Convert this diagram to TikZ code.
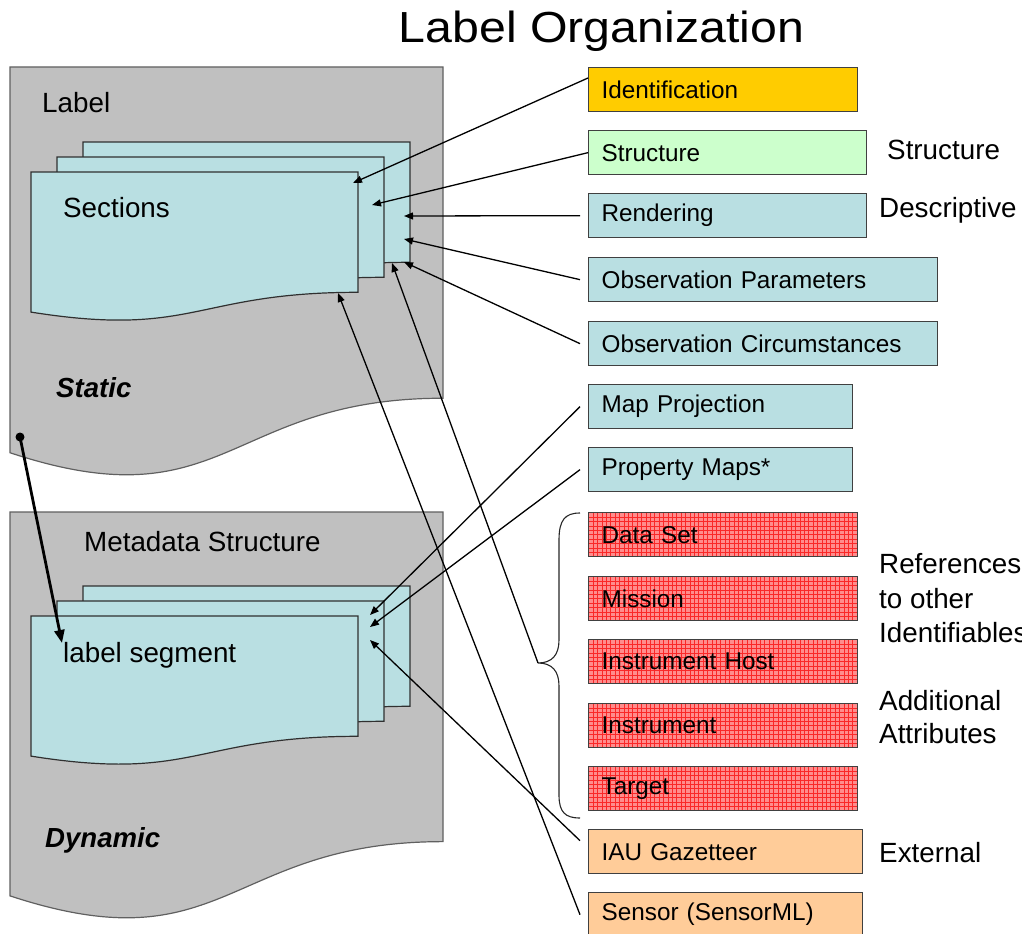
\documentclass[tikz,border=0pt]{standalone}
\usepackage{fontspec}
\setmainfont{Liberation Sans}
\usetikzlibrary{arrows.meta}

\definecolor{panelgrey}{RGB}{192,192,192}
\definecolor{panelline}{RGB}{96,96,96}
\definecolor{cardblue}{RGB}{185,223,226}
\definecolor{cardline}{RGB}{48,48,48}
\definecolor{identgold}{RGB}{255,204,0}
\definecolor{structgreen}{RGB}{204,255,204}
\definecolor{extpeach}{RGB}{255,204,153}
\definecolor{refpink}{RGB}{255,140,140}
\definecolor{refline}{RGB}{250,40,40}
\definecolor{boxline}{RGB}{64,64,64}

% page-like sheet with a wavy lower edge: style, x, y, width, height
\newcommand\wavysheet[5]{%
  \pgfmathsetmacro\shtR{#2+#4}%
  \pgfmathsetmacro\shtM{#2+#4/2}%
  \pgfmathsetmacro\shtYr{#3+0.802*#5}%
  \pgfmathsetmacro\shtYc{#3+1.1075*#5}%
  \pgfmathsetmacro\shtYl{#3+0.934*#5}%
  \draw[#1] (#2,#3) -- (\shtR,#3) -- (\shtR,\shtYr)
    .. controls (\shtM,\shtYr) and (\shtM,\shtYc) .. (#2,\shtYl) -- cycle;}

\tikzset{
  panel/.style={fill=panelgrey, draw=panelline, line width=1.2pt},
  card/.style={fill=cardblue, draw=cardline, line width=1.2pt},
  entry/.style={draw=boxline, line width=1.3pt, anchor=north west,
    minimum height=44pt, inner xsep=13pt, inner ysep=0pt, align=left,
    font=\fontsize{24.3}{28}\selectfont, text width=#1},
  gridded/.style={fill=refpink, path picture={
    \foreach \k in {0,...,64}{\draw[refline, line width=0.6pt]
      ([xshift=\k*4.4pt]path picture bounding box.south west) --
      ([xshift=\k*4.4pt]path picture bounding box.north west);}
    \foreach \k in {0,...,10}{\draw[refline, line width=0.6pt]
      ([yshift=\k*4.4pt]path picture bounding box.south west) --
      ([yshift=\k*4.4pt]path picture bounding box.south east);}}},
  caption/.style={anchor=base west, inner sep=0pt, font=\fontsize{27.8}{33}\selectfont},
  conn/.style={-{Triangle[length=9pt,width=7pt]}, line width=1.3pt, black},
}

\begin{document}
\begin{tikzpicture}[x=1pt, y=-1pt]
\useasboundingbox (0,0) rectangle (1028,934);
\clip (0,0) rectangle (1021,934);

% title
\node[anchor=base, inner sep=0pt] (title) at (601.5,43)
  {\scalebox{1.11}[1]{\fontsize{43.5}{50}\selectfont Label Organization}};

% static label panel with its section sheets
\wavysheet{panel}{10}{67}{433}{413}
\wavysheet{card}{83}{142}{327}{150}
\wavysheet{card}{57}{157}{327}{150}
\wavysheet{card}{31}{172}{327}{150}
\node[caption] (lbl) at (42,112) {Label};
\node[caption] (sec) at (63,217) {Sections};
\node[caption, font=\fontsize{27.6}{33}\selectfont\bfseries\itshape] (stat) at (56,397) {Static};

% dynamic metadata panel with its segment sheets
\wavysheet{panel}{10}{512}{433}{411}
\wavysheet{card}{83}{586}{327}{150}
\wavysheet{card}{57}{601}{327}{150}
\wavysheet{card}{31}{616}{327}{150}
\node[caption] (meta) at (84,551) {Metadata Structure};
\node[caption] (seg) at (63,662) {label segment};
\node[caption, font=\fontsize{27.6}{33}\selectfont\bfseries\itshape] (dyn) at (45,847) {Dynamic};

% class boxes
\node[entry=243pt, fill=identgold] (ident) at (588,67) {Identification};
\node[entry=252pt, fill=structgreen] (struct) at (588,130) {Structure};
\node[entry=252pt, fill=cardblue] (rend) at (588,193) {Rendering};
\node[entry=323pt, fill=cardblue] (obsp) at (588,257) {Observation Parameters};
\node[entry=323pt, fill=cardblue] (obsc) at (588,321) {Observation Circumstances};
\node[entry=238pt, fill=cardblue] (map) at (588,384) {Map Projection};
\node[entry=238pt, fill=cardblue] (prop) at (588,447) {Property Maps*};
\node[entry=243pt, gridded] (data) at (588,512) {Data Set};
\node[entry=243pt, gridded] (mission) at (588,576) {Mission};
\node[entry=243pt, gridded] (ihost) at (588,639) {Instrument Host};
\node[entry=243pt, gridded] (instr) at (588,703) {Instrument};
\node[entry=243pt, gridded] (target) at (588,766) {Target};
\node[entry=248pt, fill=extpeach] (iau) at (588,829) {IAU Gazetteer};
\node[entry=248pt, fill=extpeach] (sensor) at (588,892) {Sensor (SensorML)};

% group captions
\node[caption] (capstruct) at (887,159) {Structure};
\node[caption] (capdesc) at (879,217) {Descriptive};
\node[caption] (capref1) at (879,573) {References};
\node[caption] (capref2) at (879,608) {to other};
\node[caption] (capref3) at (879,642) {Identifiables};
\node[caption] (capadd1) at (879,710) {Additional};
\node[caption] (capadd2) at (879,743) {Attributes};
\node[caption] (capext) at (879,862) {External};

% brace grouping the referenced identifiables
\coordinate (braceTip) at (538,663);
\draw[line width=1.1pt, black!85]
  (580,513) .. controls (565,513) and (559,520) .. (559,540) -- (559,640)
  .. controls (559,655) and (552,663) .. (braceTip)
  .. controls (552,663) and (559,671) .. (559,686) -- (559,795)
  .. controls (559,812) and (565,818) .. (580,818);

% arrow targets on the sheets
\coordinate (sIdent) at (353,183);
\coordinate (sStruct) at (372,205);
\coordinate (sRend) at (404,216);
\coordinate (sObsP) at (404,239);
\coordinate (sObsC) at (404,262);
\coordinate (sBack) at (392,263);
\coordinate (sFront) at (338,293);
\coordinate (gMap) at (370,615);
\coordinate (gProp) at (370,627);
\coordinate (gIAU) at (370,640);
\coordinate (dotStart) at (20,437);
\coordinate (gSeg) at (62,643);

% connectors
\draw[conn] ([yshift=-11pt]ident.north west) -- (sIdent);
\draw[conn] (struct.west) -- (sStruct);
\draw[conn] ([xshift=-8pt]rend.west) -- (sRend);
\draw[conn] ([xshift=-8pt]obsp.west) -- (sObsP);
\draw[conn] ([xshift=-8pt]obsc.west) -- (sObsC);
\draw[conn] ([xshift=-8pt]map.west) -- (gMap);
\draw[conn] ([xshift=-8pt]prop.west) -- (gProp);
\draw[conn] (braceTip) -- (sBack);
\draw[conn] ([xshift=-8pt,yshift=11pt]iau.west) -- (gIAU);
\draw[conn] ([xshift=-8pt]sensor.west) -- (sFront);

% static label feeds the dynamic segment
\fill (dotStart) circle (4.5);
\draw[-{Triangle[length=13pt,width=10pt]}, line width=2.8pt] (dotStart) -- (gSeg);
\end{tikzpicture}
\end{document}
